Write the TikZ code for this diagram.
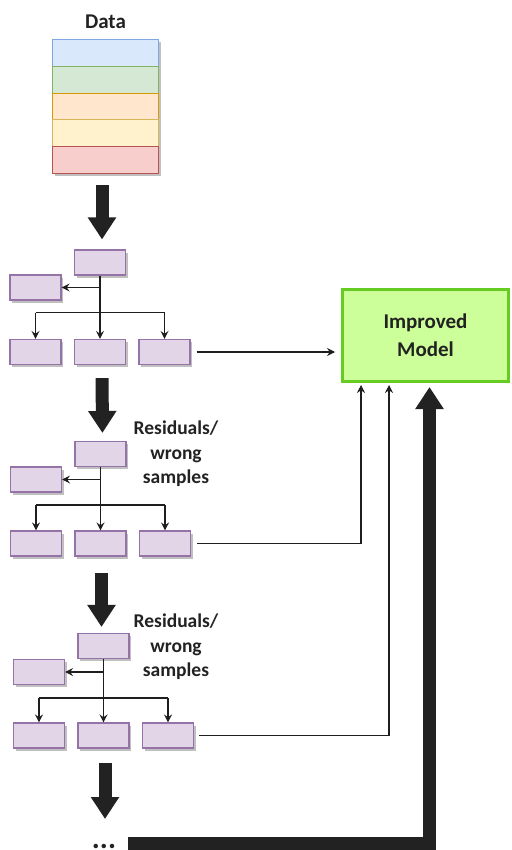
\documentclass[tikz,border=0pt]{standalone}
\usepackage{fontspec}
\setmainfont{Carlito}
\usetikzlibrary{arrows.meta,shadows,calc}
\definecolor{pfill}{HTML}{E1D5E7}
\definecolor{pdraw}{HTML}{9673A6}
\definecolor{bfill}{HTML}{DAE8FC}\definecolor{bdraw}{HTML}{7EA6E0}
\definecolor{gfill}{HTML}{D5E8D4}\definecolor{gdraw}{HTML}{82B366}
\definecolor{ofill}{HTML}{FFE6CC}\definecolor{odraw}{HTML}{D79B00}
\definecolor{yfill}{HTML}{FFF2CC}\definecolor{ydraw}{HTML}{D6B656}
\definecolor{rfill}{HTML}{F8CECC}\definecolor{rdraw}{HTML}{B85450}
\definecolor{mfill}{HTML}{CCFF99}\definecolor{mdraw}{HTML}{66CC22}
\definecolor{linkc}{HTML}{1E1E1E}
\definecolor{bigc}{HTML}{222222}
\definecolor{txtc}{HTML}{222222}
\tikzset{
  shad/.style={drop shadow={shadow xshift=2pt,shadow yshift=-2.5pt,opacity=0.35,fill=black!70}},
  leaf/.style={draw=pdraw,fill=pfill,minimum width=51pt,minimum height=25pt,inner sep=0pt,line width=1.1pt,shad},
  datarow/.style={minimum width=106pt,minimum height=26.8pt,inner sep=0pt,line width=1.1pt,shad},
  link/.style={draw=linkc,line width=1.1pt,-{Stealth[length=8pt,width=8pt,inset=2.8pt]}},
  plain/.style={draw=linkc,line width=1.1pt},
  bigarrow/.style={draw=bigc,line width=13pt,-{Triangle[length=22pt,width=27pt]}},
  lbl/.style={font=\bfseries\fontsize{19.5}{24.5}\selectfont,text=txtc,align=center},
}
\newcommand\mktree[4]{%
  \begin{scope}[shift={(#2,#3)}]
    \node[leaf] (#1top) at (0,0) {};
    \node[leaf] (#1left) at (-64.5,#4) {};
    \coordinate (#1h) at (0,2*#4);
    \node[leaf] (#1ba) at (-64.5,89.5) {};
    \node[leaf] (#1bb) at (0,89.5) {};
    \node[leaf] (#1bc) at (64.5,89.5) {};
  \end{scope}
  \draw[link] (#1top.south) -- (#1bb.north);
  \draw[link] (#1top.south |- #1left.east) -- (#1left.east);
  \draw[plain] (#1h -| #1ba.north) -- (#1h -| #1bc.north);
  \draw[link] (#1h -| #1ba.north) -- (#1ba.north);
  \draw[link] (#1h -| #1bc.north) -- (#1bc.north);
}
\begin{document}
\begin{tikzpicture}[x=1pt,y=-1pt]
\useasboundingbox[fill=white] (0,0) rectangle (511,850);
% data stack
\node[lbl,font=\bfseries\fontsize{21}{24}\selectfont] (datalbl) at (105.5,22) {Data};
\node[datarow,draw=bdraw,fill=bfill] (d1) at (105.5,52.9) {};
\node[datarow,draw=gdraw,fill=gfill] (d2) at (105.5,79.7) {};
\node[datarow,draw=odraw,fill=ofill] (d3) at (105.5,106.5) {};
\node[datarow,draw=ydraw,fill=yfill] (d4) at (105.5,133.3) {};
\node[datarow,draw=rdraw,fill=rfill] (d5) at (105.5,160.1) {};
% trees
\mktree{ta}{100}{262.5}{25}
\mktree{tb}{100.5}{454}{25.5}
\mktree{tc}{103.5}{646}{26}
% labels
\node[lbl] (res1) at (176,454) {Residuals/\\wrong\\samples};
\node[lbl] (res2) at (176,647) {Residuals/\\wrong\\samples};
% improved model
\node[draw=mdraw,fill=mfill,line width=3pt,minimum width=166pt,minimum height=92pt,inner sep=0pt,
      lbl,font=\bfseries\fontsize{21}{28}\selectfont] (model) at (425.5,335.5) {Improved\\Model};
% dots
\node[font=\bfseries\fontsize{30}{30}\selectfont,text=txtc,inner sep=0pt,anchor=base] (dots) at (104,848) {...};
% big arrows
\draw[bigarrow,shorten <=11pt,shorten >=10pt] ([xshift=2pt]tatop.north |- d5.south) -- ([xshift=2pt]tatop.north);
\draw[bigarrow,shorten <=13pt,shorten >=8pt] ([xshift=2pt]tabb.south) -- ([xshift=2pt]tbtop.north);
\draw[bigarrow,shorten <=16pt,shorten >=6pt] ([xshift=-2pt]tctop.north |- tbbb.south) -- ([xshift=-2pt]tctop.north);
\coordinate (a4e) at (105,819);
\draw[bigarrow,shorten <=14pt] ([xshift=1.5pt]tcbb.south) -- (a4e);
\coordinate (ret) at (128,843.5);
\draw[bigarrow] (ret) -| ([xshift=4pt,yshift=-4pt]model.south);
% thin links to model
\draw[link,shorten <=6pt,shorten >=6pt] (tabc.east) -- (model.west |- tabc.east);
\draw[link,shorten <=6pt] (tbbc.east) -| ([xshift=-64.5pt,yshift=-2pt]model.south);
\draw[link,shorten <=5pt] (tcbc.east) -| ([xshift=-36.5pt,yshift=-2pt]model.south);
\end{tikzpicture}
\end{document}
